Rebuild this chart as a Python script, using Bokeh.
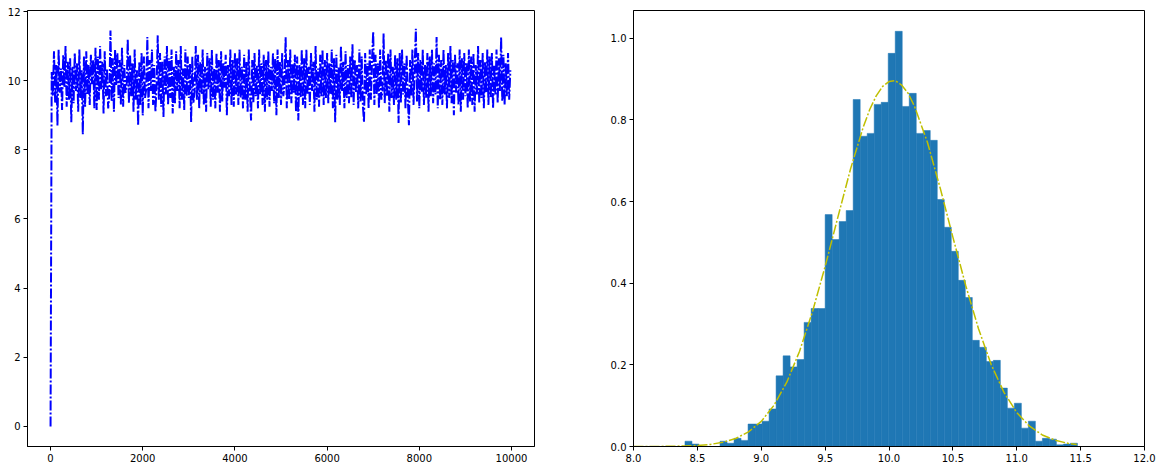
from bokeh.plotting import figure
from bokeh.layouts import row
from bokeh.models import Range1d, FixedTicker, NumeralTickFormatter
from bokeh.embed import file_html
from bokeh.resources import INLINE
import numpy as np

# ---------------- data ----------------
# MCMC trace, sampled every 25 iterations (first point = starting value 0)
trace_step = 25
trace_values = [
    0.0, 10.25, 9.55, 10.85, 9.35, 10.45, 8.7, 10.9, 9.65, 10.35, 9.15, 10.75, 9.8, 11.0, 9.25, 10.55, 9.45, 10.65, 8.8, 10.4,
    9.35, 10.8, 9.7, 10.5, 9.1, 10.9, 9.5, 10.3, 8.45, 10.7, 9.25, 10.85, 9.6, 10.45, 9.3, 10.75, 9.9, 10.6, 9.2, 10.95,
    9.15, 10.7, 9.45, 11.0, 9.75, 10.55, 9.05, 10.85, 9.55, 10.35, 9.2, 9.6, 11.45, 9.4, 10.65, 9.1, 10.9, 9.85, 10.8, 9.5,
    10.6, 9.3, 10.95, 9.25, 10.45, 9.65, 9.8, 11.2, 9.35, 10.75, 9.55, 10.5, 9.1, 10.9, 9.45, 10.3, 8.7, 10.55, 9.3, 10.8,
    9.0, 10.7, 9.5, 9.75, 11.26, 9.2, 10.6, 9.7, 10.9, 9.3, 10.45, 9.1, 9.8, 11.31, 9.45, 10.8, 9.25, 10.55, 8.95, 10.7,
    9.6, 11.0, 9.3, 10.65, 9.5, 10.9, 9.05, 10.4, 9.35, 10.85, 9.7, 10.6, 9.2, 11.0, 9.45, 10.35, 9.15, 10.9, 9.55, 10.7,
    9.5, 10.5, 8.8, 10.7, 9.35, 9.7, 11.0, 9.45, 10.75, 9.2, 10.55, 9.6, 10.9, 9.3, 10.4, 9.1, 10.8, 9.75, 10.65, 9.25,
    10.9, 9.45, 10.35, 9.2, 10.8, 9.65, 10.6, 9.1, 10.85, 9.4, 10.5, 9.8, 10.75, 9.0, 10.45, 9.55, 10.9, 9.3, 10.6, 9.25,
    10.8, 9.6, 10.65, 9.3, 10.9, 9.5, 10.4, 9.2, 10.75, 9.45, 10.55, 9.1, 10.9, 9.7, 8.85, 10.6, 9.35, 10.8, 9.55, 10.45,
    9.2, 10.9, 9.6, 10.5, 9.3, 10.75, 9.1, 10.6, 9.45, 10.85, 9.25, 10.4, 9.7, 10.8, 9.35, 10.65, 9.0, 10.9, 9.5, 10.55,
    9.3, 10.8, 9.55, 9.85, 11.26, 9.2, 10.6, 9.45, 10.9, 9.35, 10.5, 9.65, 10.75, 9.1, 10.7, 8.85, 10.45, 9.5, 10.9, 9.3,
    10.65, 9.2, 10.9, 9.6, 10.4, 9.3, 10.8, 9.7, 10.55, 9.1, 11.0, 9.45, 10.35, 9.25, 10.75, 9.55, 10.9, 9.3, 10.6, 9.5,
    10.8, 9.35, 10.5, 9.6, 10.9, 9.2, 10.65, 8.8, 10.75, 9.45, 10.4, 9.3, 11.0, 9.7, 10.55, 9.2, 10.85, 9.5, 10.45, 9.35,
    10.7, 9.5, 11.05, 9.3, 10.6, 9.65, 10.45, 9.2, 10.9, 9.4, 10.7, 9.3, 8.8, 10.8, 9.6, 10.5, 9.2, 10.9, 9.45, 10.65,
    11.42, 9.3, 10.75, 9.6, 10.5, 9.2, 10.9, 9.45, 9.7, 11.37, 9.35, 10.6, 9.55, 10.8, 9.1, 10.9, 9.5, 10.4, 9.3, 10.75,
    9.45, 10.65, 8.78, 10.8, 9.35, 10.9, 9.6, 10.5, 9.2, 10.75, 9.5, 8.71, 10.6, 9.55, 10.9, 9.3, 10.45, 11.5, 9.4, 10.8,
    9.2, 10.6, 9.65, 10.9, 9.3, 10.45, 9.5, 10.8, 9.1, 10.7, 9.55, 10.9, 9.35, 10.5, 9.6, 11.26, 9.2, 10.75, 9.45, 10.6,
    9.3, 10.9, 9.6, 10.45, 9.2, 10.8, 9.5, 11.0, 9.35, 10.6, 9.0, 10.75, 9.65, 10.5, 9.3, 10.9, 9.1, 10.65, 9.45, 10.8,
    9.55, 10.5, 9.2, 10.9, 9.4, 10.7, 9.3, 10.8, 9.1, 10.45, 9.6, 11.0, 9.35, 10.6, 9.5, 10.8, 9.2, 10.55, 9.65, 10.9,
    9.3, 10.7, 9.5, 10.8, 9.2, 10.45, 9.6, 10.9, 9.35, 10.65, 9.7, 11.26, 9.4, 10.75, 9.3, 10.5, 9.55, 10.8, 9.45, 10.3,
]
trace_iter = [i * trace_step for i in range(len(trace_values))]

# Histogram (density) of the samples
hist_lo = 8.403
hist_hi = 11.475
hist_density = [
    0.013, 0.006, 0.0, 0.0, 0.0, 0.013, 0.008, 0.020, 0.015, 0.055, 0.055, 0.062, 0.092, 0.173,
    0.222, 0.195, 0.213, 0.304, 0.338, 0.338,
    0.568, 0.507, 0.551, 0.578, 0.850, 0.760, 0.767, 0.838, 0.843, 0.963, 1.017,
    0.833, 0.865, 0.767, 0.774, 0.750, 0.605, 0.537, 0.478, 0.407, 0.365, 0.260, 0.243, 0.208, 0.211,
    0.143, 0.094, 0.106, 0.045, 0.062, 0.013, 0.020, 0.018, 0.004, 0.006, 0.008,
]

# Fitted normal curve
curve_x = [8.0, 8.2, 8.4, 8.5, 8.6, 8.7, 8.8, 8.9, 9.0, 9.1, 9.2, 9.3, 9.4, 9.5, 9.6, 9.7, 9.8,
           9.85, 9.9, 9.95, 10.0, 10.05, 10.1, 10.15, 10.2, 10.3, 10.4, 10.5, 10.6, 10.7, 10.8,
           10.9, 11.0, 11.1, 11.2, 11.3, 11.4, 11.47]
curve_y = [0.0, 0.0002, 0.0011, 0.0024, 0.0051, 0.0103, 0.0197, 0.0357, 0.0615, 0.101, 0.1575,
           0.2335, 0.329, 0.441, 0.562, 0.681, 0.784, 0.826, 0.859, 0.882, 0.894, 0.896, 0.885,
           0.865, 0.833, 0.746, 0.634, 0.513, 0.395, 0.289, 0.2006, 0.1326, 0.0833, 0.0498,
           0.0283, 0.0153, 0.0078, 0.0048]

left_xticks = [0, 2000, 4000, 6000, 8000, 10000]
left_yticks = [0, 2, 4, 6, 8, 10, 12]
right_xticks = [8.0, 8.5, 9.0, 9.5, 10.0, 10.5, 11.0, 11.5, 12.0]
right_yticks = [0.0, 0.2, 0.4, 0.6, 0.8, 1.0]

FONT = "DejaVu Sans"


def style(p):
    p.grid.visible = False
    p.outline_line_color = "black"
    p.outline_line_width = 1
    p.background_fill_color = "white"
    p.border_fill_color = "white"
    for ax in p.axis:
        ax.axis_line_color = "black"
        ax.axis_line_width = 1
        ax.major_tick_line_color = "black"
        ax.major_tick_line_width = 1
        ax.minor_tick_line_color = None
        ax.major_tick_out = 4
        ax.major_tick_in = 0
        ax.major_label_text_font = FONT
        ax.major_label_text_font_size = "10px"
        ax.major_label_text_color = "black"
        ax.major_label_standoff = 3


# ---------------- left: trace ----------------
p1 = figure(width=583, height=466, output_backend="svg", toolbar_location=None,
            x_range=Range1d(-500, 10499), y_range=Range1d(-0.58, 12.03),
            min_border_left=27, min_border_right=49, min_border_top=10, min_border_bottom=20)
p1.line(trace_iter, trace_values, line_color="blue", line_width=2, line_dash="10 2 2 2")
style(p1)
p1.xaxis.ticker = FixedTicker(ticks=left_xticks)
p1.yaxis.ticker = FixedTicker(ticks=left_yticks)

# ---------------- right: histogram + normal curve ----------------
p2 = figure(width=573, height=466, output_backend="svg", toolbar_location=None,
            x_range=Range1d(8.0, 12.0), y_range=Range1d(0.0, 1.068),
            min_border_left=50, min_border_right=12, min_border_top=10, min_border_bottom=20)
edges = np.linspace(hist_lo, hist_hi, len(hist_density) + 1)
p2.quad(left=edges[:-1], right=edges[1:], bottom=0, top=hist_density,
        fill_color="#1f77b4", line_color="#1f77b4", line_width=0.5)
p2.line(curve_x, curve_y, line_color="#bfbf00", line_width=1.5, line_dash="10 2 2 2")
style(p2)
p2.xaxis.ticker = FixedTicker(ticks=right_xticks)
p2.yaxis.ticker = FixedTicker(ticks=right_yticks)
p2.xaxis.formatter = NumeralTickFormatter(format="0.0")
p2.yaxis.formatter = NumeralTickFormatter(format="0.0")

layout = row(p1, p2)
open("out.html", "w").write(file_html(layout, INLINE))
